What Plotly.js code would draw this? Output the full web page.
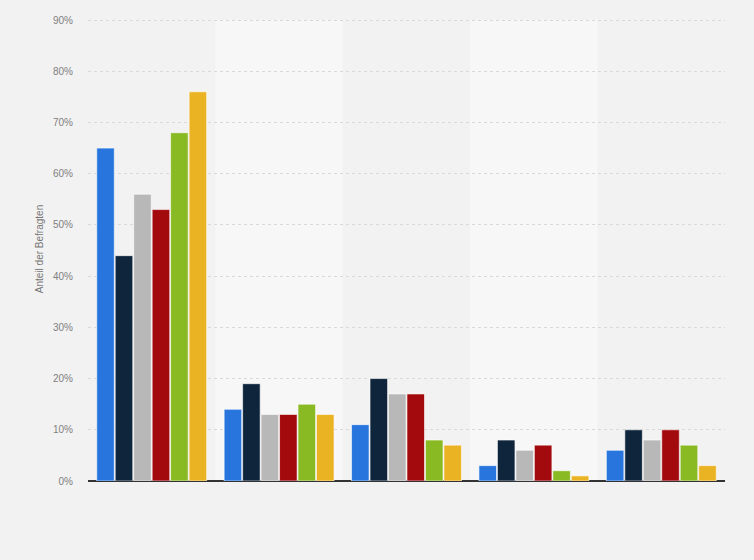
<!DOCTYPE html>
<html>
<head>
<meta charset="utf-8">
<script src="https://cdn.plot.ly/plotly-3.0.1.min.js"></script>
<style>html,body{margin:0;padding:0;background:#f2f2f2;}</style>
</head>
<body>
<div id="chart" style="width:754px;height:560px;"></div>
<script>
var categories = ["Kategorie 1", "Kategorie 2", "Kategorie 3", "Kategorie 4", "Kategorie 5"];
var seriesNames = ["Serie 1", "Serie 2", "Serie 3", "Serie 4", "Serie 5", "Serie 6"];
var serie1 = [65, 14, 11, 3, 6];
var serie2 = [44, 19, 20, 8, 10];
var serie3 = [56, 13, 17, 6, 8];
var serie4 = [53, 13, 17, 7, 10];
var serie5 = [68, 15, 8, 2, 7];
var serie6 = [76, 13, 7, 1, 3];
var yTickVals = [0, 10, 20, 30, 40, 50, 60, 70, 80, 90];
var yTickText = ["0%", "10%", "20%", "30%", "40%", "50%", "60%", "70%", "80%", "90%"];

var colors = ["#2876dd", "#0f253c", "#b8b8b8", "#a30a0e", "#89b923", "#eab323"];
var allSeries = [serie1, serie2, serie3, serie4, serie5, serie6];

var traces = allSeries.map(function (vals, i) {
  return {
    type: "bar",
    name: seriesNames[i],
    x: categories,
    y: vals,
    marker: {color: colors[i], line: {color: "rgba(255,255,255,0.6)", width: 1}},
    hoverinfo: "y"
  };
});

var shapes = [];
[1, 3].forEach(function (idx) {
  shapes.push({
    type: "rect", xref: "x", yref: "paper",
    x0: idx - 0.5, x1: idx + 0.5, y0: 0, y1: 0.994,
    fillcolor: "#f7f7f7", line: {width: 0}, layer: "below"
  });
});

var layout = {
  width: 754, height: 560,
  margin: {l: 88, r: 29, t: 17, b: 79},
  paper_bgcolor: "#f2f2f2",
  plot_bgcolor: "#f2f2f2",
  showlegend: false,
  barmode: "group",
  bargap: 0.13,
  bargroupgap: 0.05,
  shapes: shapes,
  font: {family: "Arial, Liberation Sans, sans-serif", color: "#777"},
  xaxis: {
    showticklabels: false,
    showgrid: false,
    zeroline: false,
    showline: false,
    ticks: ""
  },
  yaxis: {
    range: [0, 90.6],
    tickvals: yTickVals,
    ticktext: yTickText,
    tickfont: {size: 10, color: "#808080"},
    showgrid: true,
    gridcolor: "#d9d9d9",
    griddash: "dot",
    gridwidth: 1,
    zeroline: true,
    zerolinecolor: "#333",
    zerolinewidth: 1.5,
    ticks: "",
    ticklabelstandoff: 14,
    title: {text: "Anteil der Befragten", font: {size: 10, color: "#777"}, standoff: 7}
  }
};

Plotly.newPlot("chart", traces, layout, {displayModeBar: false, staticPlot: true});
</script>
</body>
</html>
